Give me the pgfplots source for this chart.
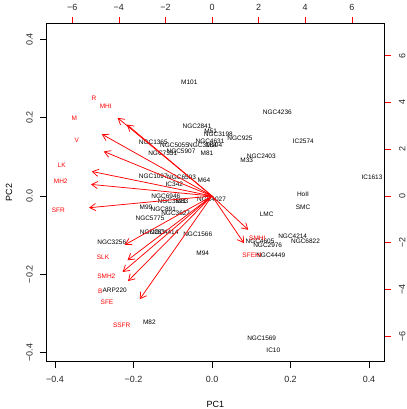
\documentclass[border=0pt]{standalone}
\usepackage{pgfplots}
\pgfplotsset{compat=1.18}
\usepackage{pgfplotstable}
\usepackage{fontspec}
\setmainfont{Liberation Sans}
\usetikzlibrary{arrows.meta}

\pgfplotstableread{
label x y
M101 -0.0578 0.2893
NGC4236 0.1664 0.2137
IC2574 0.2326 0.1396
NGC925 0.0713 0.1473
NGC2403 0.1256 0.1021
M33 0.0884 0.0906
IC1613 0.4076 0.0485
HoII 0.2318 0.0033
SMC 0.2318 -0.0299
LMC 0.1394 -0.0460
NGC4214 0.2056 -0.1039
NGC6822 0.2382 -0.1157
NGC4605 0.1223 -0.1149
NGC2976 0.1419 -0.1251
NGC4449 0.1496 -0.1506
NGC1569 0.1266 -0.3633
IC10 0.1562 -0.3932
M94 -0.0237 -0.1463
NGC1566 -0.0364 -0.0978
NGC4027 -0.0013 -0.0084
IC342 -0.0960 0.0299
M64 -0.0204 0.0401
NGC1097 -0.1496 0.0493
NGC6503 -0.0777 0.0485
NGC1365 -0.1496 0.1361
NGC5055 -0.0955 0.1302
NGC3184 -0.0242 0.1302
M104 0.0051 0.1302
NGC5907 -0.0790 0.1149
NGC7331 -0.1256 0.1098
M81 -0.0127 0.1098
NGC2841 -0.0382 0.1774
M51 -0.0033 0.1659
NGC3198 0.0161 0.1575
NGC4631 -0.0051 0.1404
NGC6946 -0.1177 0.0000
NGC3521 -0.1019 -0.0128
M83 -0.0764 -0.0128
M99 -0.1682 -0.0288
NGC891 -0.1241 -0.0340
NGC3627 -0.0925 -0.0442
NGC5775 -0.1580 -0.0580
NGC253 -0.1516 -0.0919
NGC4414 -0.1223 -0.0919
NGC3256 -0.2555 -0.1192
ARP220 -0.2479 -0.2400
M82 -0.1597 -0.3224
}\scores

\pgfplotstableread{
label lx ly x y u v
R -5.064 4.179 0 0 -4.051 3.343
MHI -4.562 3.820 0 0 -3.650 3.056
M -5.910 3.306 0 0 -4.728 2.645
V -5.807 2.382 0 0 -4.646 1.906
LK -6.451 1.313 0 0 -5.161 1.050
MH2 -6.494 0.620 0 0 -5.195 0.496
SFR -6.597 -0.629 0 0 -5.278 -0.503
SLK -4.678 -2.609 0 0 -3.742 -2.087
SMH2 -4.536 -3.435 0 0 -3.629 -2.748
B -4.794 -4.063 0 0 -3.835 -3.250
SFE -4.506 -4.547 0 0 -3.605 -3.638
SSFR -3.876 -5.518 0 0 -3.101 -4.414
SMHI 1.944 -1.809 0 0 1.555 -1.447
SFEHI 1.717 -2.524 0 0 1.374 -2.019
}\loadings

\begin{document}
\begin{tikzpicture}
\begin{axis}[
  at={(0,0)}, anchor=south west,
  scale only axis, width=338.2bp, height=338.4bp,
  xmin=-0.4222, xmax=0.4395, ymin=-0.4230, ymax=0.4409,
  tick pos=left, tick align=outside, major tick length=6bp,
  xtick={-0.4,-0.2,0,0.2,0.4}, xticklabels={−0.4,−0.2,0.0,0.2,0.4},
  ytick={-0.4,-0.2,0,0.2,0.4}, yticklabels={−0.4,−0.2,0.0,0.2,0.4},
  tick label style={font=\fontsize{9}{10}\selectfont, text=black!85},
  xticklabel shift=5bp,
  yticklabel style={rotate=90, anchor=south},
  yticklabel shift=4bp,
  axis line style={black, line width=0.8bp},
  tick style={black, line width=0.6bp},
  xlabel={PC1}, ylabel={PC2},
  label style={font=\fontsize{9}{10}\selectfont},
  xlabel style={at={(axis description cs:0.5,-0.127)}, anchor=center},
  ylabel style={at={(axis description cs:-0.110,0.5)}, anchor=center},
]
\addplot[draw=none, mark=none, nodes near coords, point meta=explicit symbolic,
  nodes near coords style={anchor=center, inner sep=0pt, font=\fontsize{6.5}{7}\selectfont, text=black}]
  table[x=x, y=y, meta=label] {\scores};
\end{axis}
\begin{axis}[
  at={(0,0)}, anchor=south west,
  scale only axis, width=338.2bp, height=338.4bp,
  xmin=-7.112, xmax=7.403, ymin=-7.087, ymax=7.387,
  axis x line*=top, axis y line*=right,
  axis line style={draw=none},
  tick align=outside, major tick length=6bp,
  xtick={-6,-4,-2,0,2,4,6}, xticklabels={−6,−4,−2,0,2,4,6},
  ytick={-6,-4,-2,0,2,4,6}, yticklabels={−6,−4,−2,0,2,4,6},
  tick label style={font=\fontsize{9}{10}\selectfont, text=black!85},
  xticklabel shift=3bp,
  yticklabel style={rotate=90, anchor=north},
  yticklabel shift=5bp,
  tick style={red, line width=0.6bp},
]
\addplot[red, line width=0.75bp, quiver={u=\thisrow{u}, v=\thisrow{v}},
  -{Straight Barb[length=6bp, width=7.2bp]}]
  table[x=x, y=y] {\loadings};
\addplot[draw=none, mark=none, nodes near coords, point meta=explicit symbolic,
  nodes near coords style={anchor=center, inner sep=0pt, font=\fontsize{6.5}{7}\selectfont, text=red}]
  table[x=lx, y=ly, meta=label] {\loadings};
\end{axis}
\pgfresetboundingbox
\path[use as bounding box] (-46.3bp,-47.3bp) rectangle (360.7bp,361.7bp);
\end{tikzpicture}
\end{document}
